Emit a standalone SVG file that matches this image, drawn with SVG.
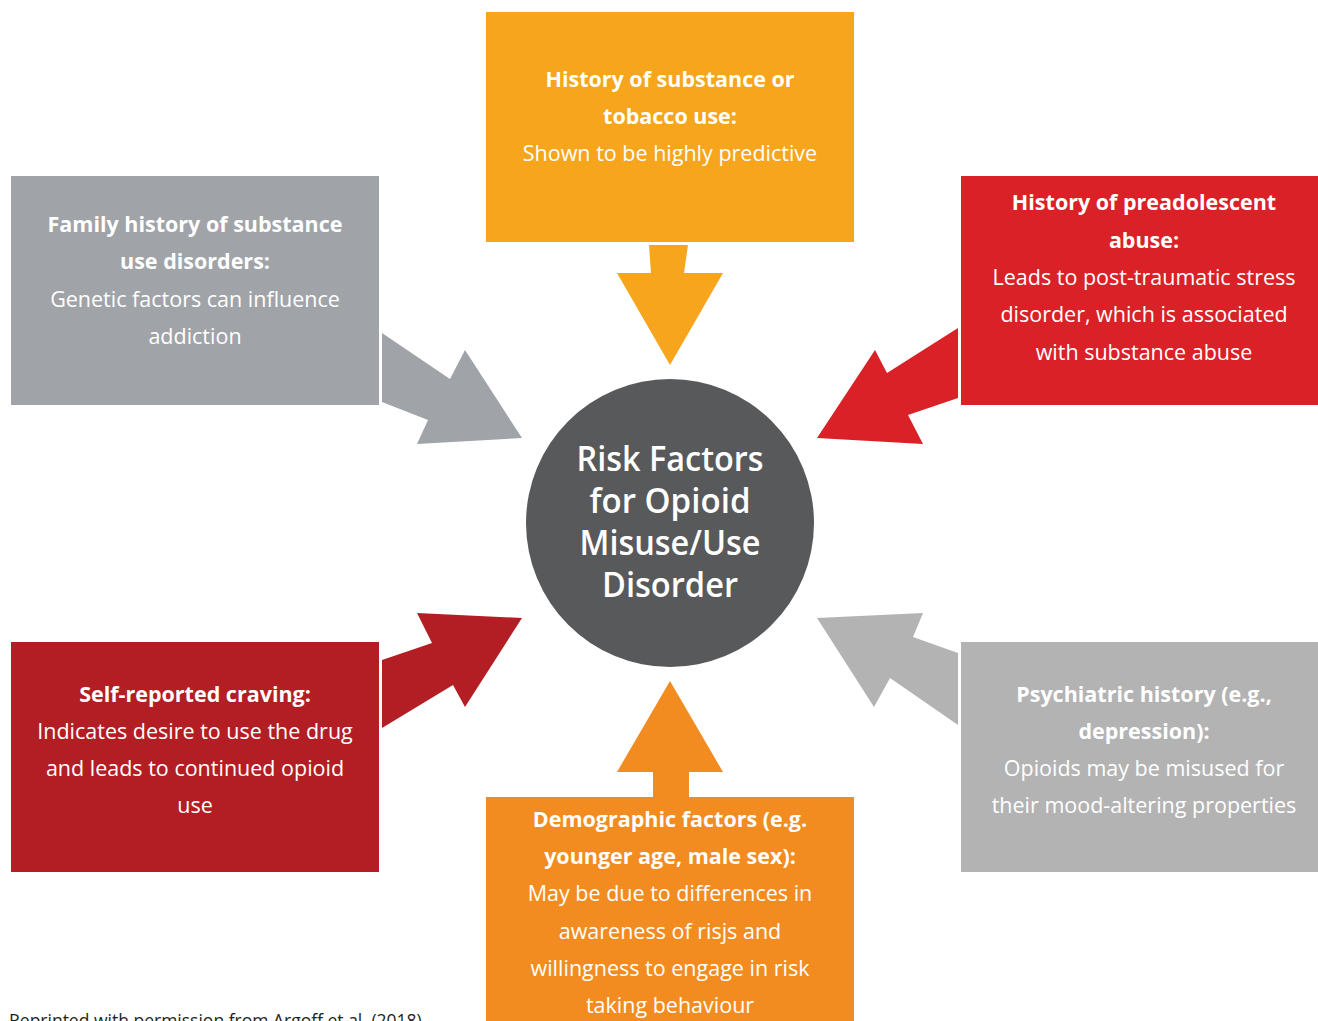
<svg xmlns="http://www.w3.org/2000/svg" width="1318" height="1021" viewBox="0 0 1318 1021">
<style>
text{font-family:"Open Sans","Noto Sans","Liberation Sans",sans-serif;fill:#fff;text-anchor:middle;font-size:21.5px}
.b{font-weight:bold}
.t{font-size:35px;font-weight:600;font-family:"Open Sans","Liberation Sans",sans-serif}
.cap{fill:#231f20;text-anchor:start;font-size:17.5px}
</style>
<rect width="1318" height="1021" fill="#fff"/>
<g id="connectors">
<polygon points="649,245 688,245 684,273 723,273 670,365 617,273 651,273" fill="#F7A51C"/>
<polygon points="670,681 723,772 689,772 689,797 653,797 653,772 617,772" fill="#F28C20"/>
<polygon points="382,333 450,379 465,350 522,438 417,444 428,420 382,402" fill="#A0A4A8"/>
<polygon points="958,328 887,373 875,350 817,438 923,444 908,415 958,398" fill="#D92127"/>
<polygon points="382,660 432,643 417,613 522,618 465,707 453,685 382,728" fill="#B31E24"/>
<polygon points="817,618 923,613 913,637 958,653 958,725 890,678 874,707" fill="#B3B3B3"/>
</g>
<g id="center">
<circle cx="670" cy="523" r="144" fill="#58595B"/>
<text class="t" x="670" y="471" textLength="187" lengthAdjust="spacingAndGlyphs">Risk Factors</text>
<text class="t" x="670" y="513" textLength="161" lengthAdjust="spacingAndGlyphs">for Opioid</text>
<text class="t" x="670" y="555" textLength="181" lengthAdjust="spacingAndGlyphs">Misuse/Use</text>
<text class="t" x="670" y="597" textLength="136" lengthAdjust="spacingAndGlyphs">Disorder</text>
</g>
<g id="top">
<rect x="486" y="12" width="368" height="230" fill="#F7A51C"/>
<text class="b" x="670" y="87">History of substance or</text>
<text class="b" x="670" y="124">tobacco use:</text>
<text x="670" y="161">Shown to be highly predictive</text>
</g>
<g id="family">
<rect x="11" y="176" width="368" height="229" fill="#A0A4A8"/>
<text class="b" x="195" y="232">Family history of substance</text>
<text class="b" x="195" y="269">use disorders:</text>
<text x="195" y="307">Genetic factors can influence</text>
<text x="195" y="344">addiction</text>
</g>
<g id="abuse">
<rect x="961" y="176" width="357" height="229" fill="#D92127"/>
<text class="b" x="1144" y="210">History of preadolescent</text>
<text class="b" x="1144" y="248">abuse:</text>
<text x="1144" y="285">Leads to post-traumatic stress</text>
<text x="1144" y="322">disorder, which is associated</text>
<text x="1144" y="360">with substance abuse</text>
</g>
<g id="craving">
<rect x="11" y="642" width="368" height="230" fill="#B31E24"/>
<text class="b" x="195" y="702">Self-reported craving:</text>
<text x="195" y="739">Indicates desire to use the drug</text>
<text x="195" y="776">and leads to continued opioid</text>
<text x="195" y="813">use</text>
</g>
<g id="psychiatric">
<rect x="961" y="642" width="357" height="230" fill="#B3B3B3"/>
<text class="b" x="1144" y="702">Psychiatric history (e.g.,</text>
<text class="b" x="1144" y="739">depression):</text>
<text x="1144" y="776">Opioids may be misused for</text>
<text x="1144" y="813">their mood-altering properties</text>
</g>
<g id="demographic">
<rect x="486" y="797" width="368" height="224" fill="#F28C20"/>
<text class="b" x="670" y="827">Demographic factors (e.g.</text>
<text class="b" x="670" y="864">younger age, male sex):</text>
<text x="670" y="901">May be due to differences in</text>
<text x="670" y="939">awareness of risjs and</text>
<text x="670" y="976">willingness to engage in risk</text>
<text x="670" y="1013">taking behaviour</text>
</g>
<text class="cap" x="9" y="1027">Reprinted with permission from Argoff et al. (2018)</text>
</svg>
